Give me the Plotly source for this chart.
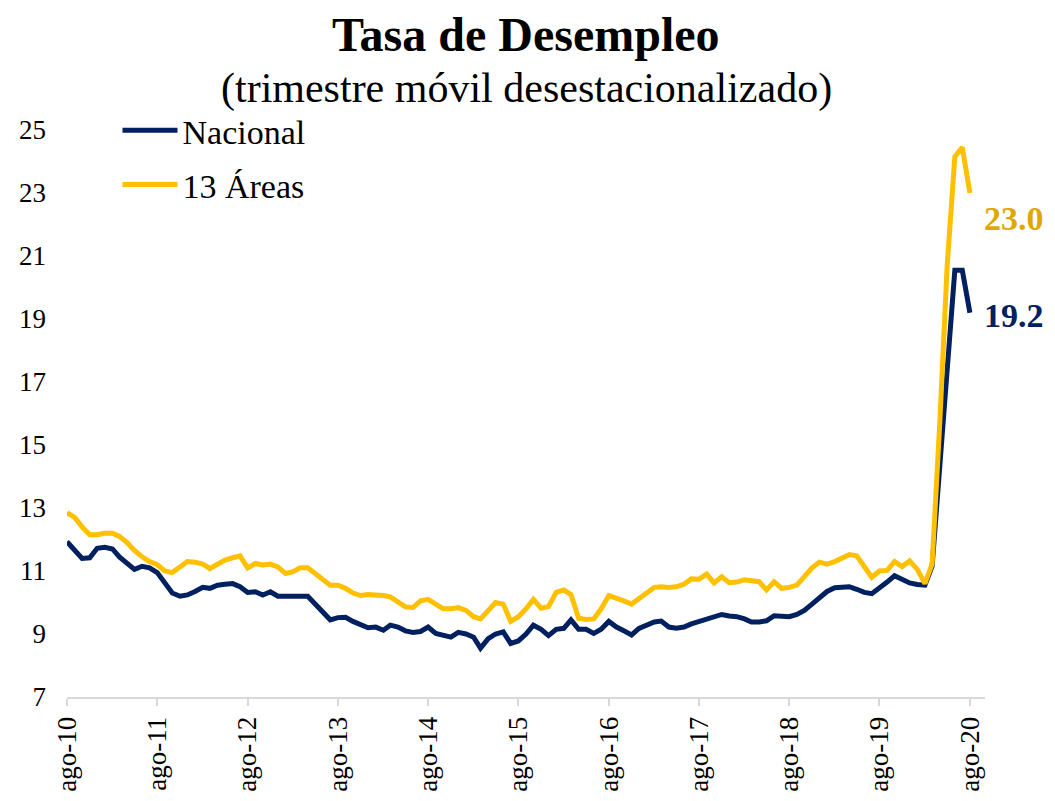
import pandas as pd
import plotly.graph_objects as go

# Monthly points, ago-2010 .. ago-2020 (trimestre móvil desestacionalizado)
months = pd.date_range("2010-08-01", periods=121, freq="MS")

nacional = [
    11.93, 11.65, 11.40, 11.42, 11.72, 11.75, 11.70, 11.45, 11.22, 11.05,
    11.15, 11.10, 10.95, 10.60, 10.30, 10.20, 10.24, 10.35, 10.48, 10.45,
    10.55, 10.58, 10.60, 10.50, 10.32, 10.34, 10.24, 10.34, 10.20, 10.20,
    10.20, 10.20, 10.20, 9.95, 9.70, 9.45, 9.52, 9.53, 9.40, 9.30,
    9.20, 9.22, 9.12, 9.28, 9.22, 9.10, 9.05, 9.08, 9.22, 9.02,
    8.95, 8.90, 9.05, 9.00, 8.90, 8.55, 8.85, 9.00, 9.07, 8.70,
    8.78, 9.00, 9.28, 9.15, 8.95, 9.15, 9.18, 9.45, 9.15, 9.15,
    9.02, 9.15, 9.40, 9.22, 9.10, 8.97, 9.18, 9.28, 9.38, 9.41,
    9.22, 9.18, 9.22, 9.32, 9.40, 9.50, 9.55, 9.62, 9.57, 9.55,
    9.48, 9.38, 9.38, 9.42, 9.58, 9.58, 9.55, 9.62, 9.75, 9.95,
    10.15, 10.35, 10.47, 10.48, 10.50, 10.42, 10.32, 10.28, 10.45, 10.65,
    10.85, 10.75, 10.62, 10.57, 10.55, 11.15, 14.20, 17.60, 20.55, 20.55,
    19.20,
]

areas13 = [
    12.85, 12.70, 12.40, 12.15, 12.15, 12.20, 12.20, 12.10, 11.90, 11.65,
    11.45, 11.30, 11.20, 11.00, 10.95, 11.15, 11.30, 11.28, 11.22, 11.08,
    11.20, 11.35, 11.42, 11.48, 11.10, 11.24, 11.19, 11.22, 11.13, 10.92,
    10.98, 11.10, 11.10, 10.92, 10.75, 10.55, 10.55, 10.45, 10.30, 10.22,
    10.25, 10.25, 10.22, 10.18, 10.00, 9.86, 9.84, 10.05, 10.10, 9.95,
    9.80, 9.80, 9.84, 9.75, 9.55, 9.48, 9.75, 10.00, 9.95, 9.40,
    9.55, 9.80, 10.10, 9.82, 9.87, 10.32, 10.40, 10.25, 9.50, 9.46,
    9.48, 9.80, 10.22, 10.15, 10.05, 9.95, 10.10, 10.30, 10.48, 10.50,
    10.48, 10.50, 10.58, 10.75, 10.74, 10.90, 10.62, 10.82, 10.63, 10.65,
    10.72, 10.68, 10.66, 10.40, 10.66, 10.45, 10.48, 10.55, 10.85, 11.10,
    11.28, 11.22, 11.30, 11.40, 11.52, 11.48, 11.15, 10.80, 11.00, 11.02,
    11.30, 11.14, 11.32, 11.05, 10.60, 11.22, 15.70, 20.70, 24.15, 24.45,
    23.00,
]

tick_dates = pd.date_range("2010-08-01", periods=11, freq="12MS")
tick_text = ["ago-10", "ago-11", "ago-12", "ago-13", "ago-14", "ago-15",
             "ago-16", "ago-17", "ago-18", "ago-19", "ago-20"]
y_ticks = [7, 9, 11, 13, 15, 17, 19, 21, 23, 25]

NAVY = "#002060"
GOLD = "#FFC000"
GOLD_TXT = "#DFA800"
FONT = "Liberation Serif"

fig = go.Figure()
fig.add_trace(go.Scatter(x=months, y=nacional, mode="lines", name="Nacional",
                         legendgroup="a",
                         line=dict(color=NAVY, width=5)))
fig.add_trace(go.Scatter(x=months, y=areas13, mode="lines", name="13 Áreas",
                         legendgroup="b",
                         line=dict(color=GOLD, width=5)))

fig.add_annotation(x=months[-1], y=areas13[-1], text="<b>23.0</b>",
                   xref="x", yref="y", showarrow=False, xanchor="left",
                   yanchor="middle", xshift=12, yshift=-25,
                   font=dict(family=FONT, size=34, color=GOLD_TXT))
fig.add_annotation(x=months[-1], y=nacional[-1], text="<b>19.2</b>",
                   xref="x", yref="y", showarrow=False, xanchor="left",
                   yanchor="middle", xshift=12, yshift=-3,
                   font=dict(family=FONT, size=34, color=NAVY))

fig.add_annotation(x=0.5, y=1.168, xref="paper", yref="paper",
                   text="<b>Tasa de Desempleo</b>", showarrow=False,
                   xanchor="center", yanchor="middle",
                   font=dict(family=FONT, size=48, color="#000000"))
fig.add_annotation(x=0.5, y=1.073, xref="paper", yref="paper",
                   text="(trimestre móvil desestacionalizado)", showarrow=False,
                   xanchor="center", yanchor="middle",
                   font=dict(family=FONT, size=42, color="#000000"))

# the page body adds an 8px offset on every side; size the figure so that
# the page fits the window exactly and the plot lands in place
fig.update_layout(
    width=1039, height=785,
    margin=dict(l=59, r=62, t=122, b=96, autoexpand=False),
    paper_bgcolor="white", plot_bgcolor="white",
    font=dict(family=FONT, color="#000000"),
    showlegend=True,
    legend=dict(x=0.055, y=1.05, xanchor="left", yanchor="top",
                bgcolor="rgba(0,0,0,0)", font=dict(family=FONT, size=34),
                itemwidth=55, tracegroupgap=7, traceorder="grouped"),
    xaxis=dict(range=[pd.Timestamp("2010-08-01"), pd.Timestamp("2020-10-01")],
               tickvals=tick_dates, ticktext=tick_text, tickangle=-90,
               showgrid=False, zeroline=False, showline=True,
               linecolor="#D9D9D9", linewidth=2, ticks="outside", ticklen=7,
               tickcolor="#D9D9D9", tickwidth=2, automargin=False,
               tickfont=dict(family=FONT, size=27, color="#000000")),
    yaxis=dict(range=[7, 25], tickvals=y_ticks, showgrid=False,
               zeroline=False, showline=False, ticks="",
               ticklabelstandoff=20, automargin=False,
               tickfont=dict(family=FONT, size=27, color="#000000")),
)

fig.write_html("out.html")
